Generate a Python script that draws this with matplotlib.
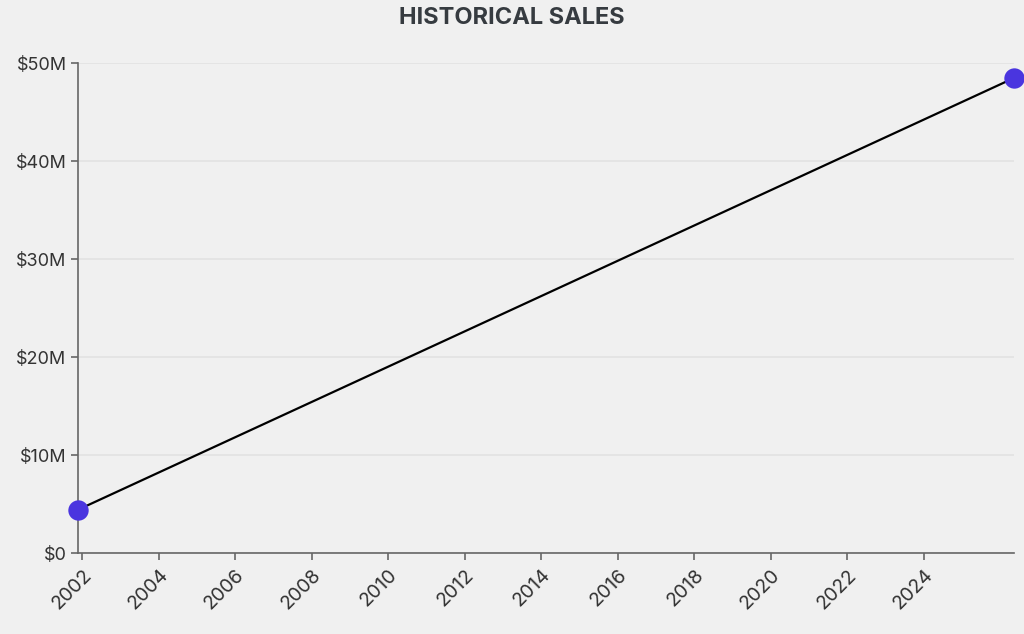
import matplotlib
matplotlib.use("Agg")
import matplotlib.pyplot as plt
from matplotlib.ticker import FuncFormatter

years = [2001.88, 2026.36]
sales = [4.43, 48.5]  # $M
x_ticks = list(range(2002, 2025, 2))
y_ticks = [0, 10, 20, 30, 40, 50]

plt.rcParams['font.family'] = ['Inter', 'DejaVu Sans']
bg = '#f0f0f0'
fig = plt.figure(figsize=(10.24, 6.34), dpi=100, facecolor=bg)
W, H = 1024, 634
ax = fig.add_axes([77.7 / W, 1 - 553.3 / H, (1014 - 77.7) / W, (553.3 - 63.3) / H])
ax.set_facecolor(bg)

ax.plot(years, sales, color='black', lw=1.6, zorder=3, clip_on=False)
ax.scatter(years, sales, s=215, color='#4a35df', zorder=4, clip_on=False, linewidths=0)

ax.set_xlim(years[0], years[1])
ax.set_ylim(0, 50)
ax.set_xticks(x_ticks)
ax.set_xticklabels([str(y) for y in x_ticks], rotation=45, ha='right', rotation_mode='anchor')
ax.set_yticks(y_ticks)
ax.yaxis.set_major_formatter(FuncFormatter(lambda v, p: '$0' if v == 0 else f'${int(v)}M'))

ax.grid(axis='y', color='#e2e2e2', lw=1.2, zorder=0)
ax.grid(axis='x', visible=False)
for s in ['top', 'right']:
    ax.spines[s].set_visible(False)
for s in ['left', 'bottom']:
    ax.spines[s].set_color('#666666')
    ax.spines[s].set_linewidth(1.2)
ax.tick_params(axis='both', colors='#666666', length=5, width=1.2, labelcolor='#333333')
ax.tick_params(axis='x', pad=4, labelsize=14)
ax.tick_params(axis='y', pad=3, labelsize=13)

fig.text(0.5, 1 - 18.5 / H, 'HISTORICAL SALES', ha='center', va='center',
         fontsize=17, fontweight='bold', color='#363b40')

fig.savefig('out.png', dpi=100, facecolor=bg)
